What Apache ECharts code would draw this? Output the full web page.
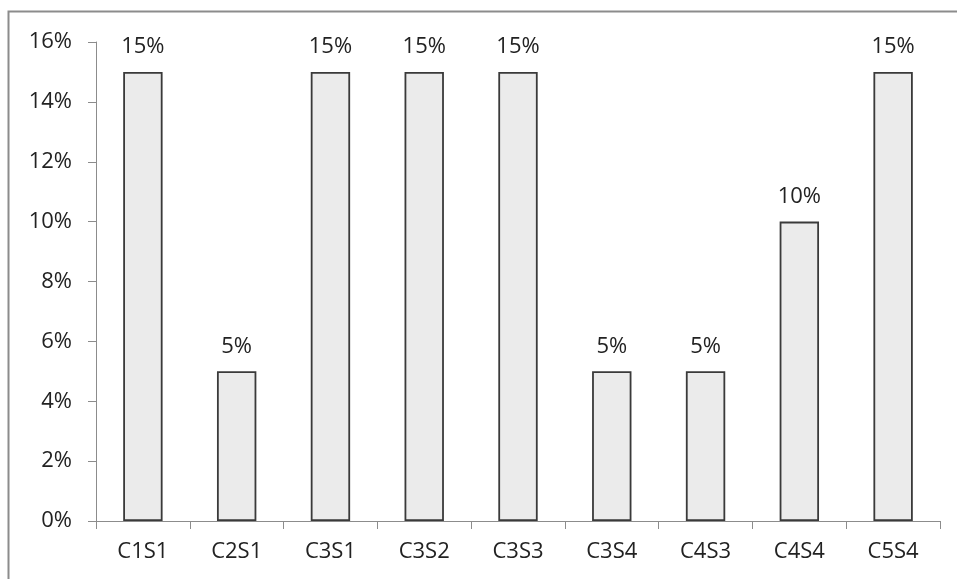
<!DOCTYPE html>
<html>
<head>
<meta charset="utf-8">
<script src="https://cdn.jsdelivr.net/npm/echarts@6/dist/echarts.min.js"></script>
<style>
  html, body { margin: 0; padding: 0; background: #fff; }
  #chart { width: 957px; height: 579px; }
</style>
</head>
<body>
<div id="chart"></div>
<script>
var categories = ['C1S1', 'C2S1', 'C3S1', 'C3S2', 'C3S3', 'C3S4', 'C4S3', 'C4S4', 'C5S4'];
var shares = [15, 5, 15, 15, 15, 5, 5, 10, 15];

var chart = echarts.init(document.getElementById('chart'));
var font = 'Open Sans, Noto Sans, sans-serif';

chart.setOption({
    animation: false,
    graphic: [{
        type: 'rect',
        shape: { x: 8.5, y: 11.5, width: 1200, height: 1200 },
        style: { fill: 'none', stroke: '#8c8c8c', lineWidth: 2 },
        silent: true
    }],
    grid: { left: 96, top: 42, right: 17, bottom: 58 },
    xAxis: {
        type: 'category',
        data: categories,
        axisLine: { lineStyle: { color: '#8c8c8c', width: 1 } },
        axisTick: { show: true, length: 8, lineStyle: { color: '#8c8c8c' } },
        axisLabel: { color: '#222', fontSize: 22, fontFamily: font, margin: 20 }
    },
    yAxis: {
        type: 'value',
        min: 0,
        max: 16,
        interval: 2,
        splitLine: { show: false },
        axisLine: { show: true, lineStyle: { color: '#8c8c8c', width: 1 } },
        axisTick: { show: true, inside: false, length: 8, lineStyle: { color: '#8c8c8c' } },
        axisLabel: { color: '#222', fontSize: 22, fontFamily: font, margin: 24,
            formatter: function (v) { return v + '%'; } }
    },
    series: [{
        type: 'bar',
        data: shares,
        barWidth: '42%',
        itemStyle: { color: '#ebebeb', borderColor: '#3a3a3a', borderWidth: 1.8 },
        label: {
            show: true,
            position: 'top',
            distance: 14,
            color: '#222',
            fontSize: 22,
            fontFamily: font,
            formatter: function (p) { return p.value + '%'; }
        }
    }]
});
</script>
</body>
</html>
